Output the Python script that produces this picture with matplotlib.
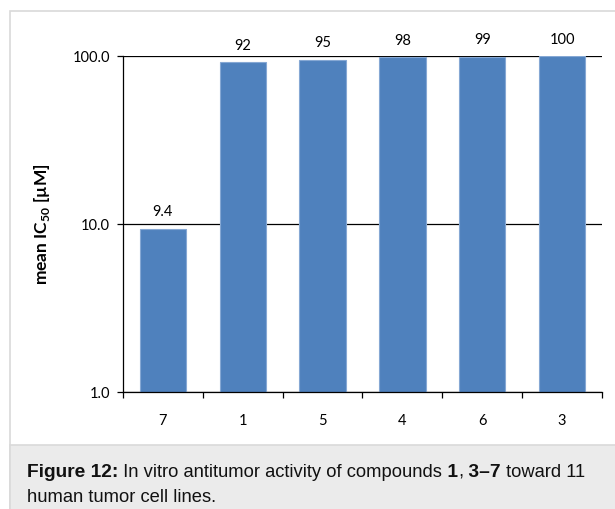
import matplotlib
matplotlib.use("Agg")
import matplotlib.pyplot as plt
from matplotlib.patches import Rectangle
from matplotlib.ticker import FixedLocator, NullLocator, NullFormatter

# ── Data ─────────────────────────────────────────────────────────────────────
compounds = ["7", "1", "5", "4", "6", "3"]
ic50 = [9.4, 92, 95, 98, 99, 100]
value_labels = ["9.4", "92", "95", "98", "99", "100"]
yticks = [1, 10, 100]
ytick_labels = ["1.0", "10.0", "100.0"]

# caption runs: spaces kept at the start of a run so they are measured
caption_lines = [
    [("Figure 12:", "bold"), (" In vitro antitumor activity of compounds", "normal"),
     (" 1", "bold"), (",", "normal"), (" 3–7", "bold"), (" toward 11", "normal")],
    [("human tumor cell lines.", "normal")],
]

# ── Style ────────────────────────────────────────────────────────────────────
plt.rcParams.update({
    "font.family": ["Lato", "DejaVu Sans"],
    "font.size": 10,
    "mathtext.fontset": "custom",
    "mathtext.rm": "Lato",
    "mathtext.bf": "Lato:bold",
})

W, H = 615, 510
fig = plt.figure(figsize=(W / 100, H / 100), dpi=100)

# panel frame and caption background (pixel coords -> figure fraction)
fig.patches.append(Rectangle((10 / W, -0.01), 1.0, 1.01 - 12 / H, transform=fig.transFigure,
                             facecolor="white", edgecolor="#d9d9d9", lw=1.2, zorder=-3))
fig.patches.append(Rectangle((10 / W, -0.01), 1.0, 0.01 + 1 - 446 / H, transform=fig.transFigure,
                             facecolor="#ebebeb", edgecolor="#d9d9d9", lw=1.2, zorder=-2))

ax = fig.add_axes([123 / W, 1 - 393 / H, (602 - 123) / W, (393 - 57) / H])
ax.set_zorder(1)
ax.patch.set_alpha(0)

x = list(range(len(compounds)))
ax.bar(x, ic50, width=0.58, color="#4f81bd", edgecolor="#86a8d4", lw=0.8, zorder=2)
ax.set_yscale("log")
ax.set_ylim(1, 100)
ax.set_xlim(-0.5, len(compounds) - 0.5)

for xi, v, lab in zip(x, ic50, value_labels):
    ax.annotate(lab, xy=(xi, v), xytext=(0, 12.5), textcoords="offset points",
                ha="center", va="center", fontsize=10.5, color="black",
                annotation_clip=False)

# y axis: 1 / 10 / 100 with black grid
ax.yaxis.set_major_locator(FixedLocator(yticks))
ax.yaxis.set_minor_locator(NullLocator())
ax.yaxis.set_minor_formatter(NullFormatter())
ax.set_yticklabels(ytick_labels)
ax.yaxis.grid(True, color="black", lw=0.9, zorder=1)
ax.set_axisbelow(True)
ax.tick_params(axis="y", which="major", length=4, width=0.9, pad=5.5,
               labelsize=10.5, direction="out")

# x axis: labels at bar centres, ticks between categories
ax.set_xticks(x)
ax.set_xticklabels(compounds)
ax.set_xticks([i - 0.5 for i in range(len(compounds) + 1)], minor=True)
ax.tick_params(axis="x", which="major", length=0, pad=15, labelsize=10.5)
ax.tick_params(axis="x", which="minor", length=4, width=0.9, direction="out")

for s in ["top", "right"]:
    ax.spines[s].set_visible(False)
for s in ["left", "bottom"]:
    ax.spines[s].set_linewidth(0.9)
    ax.spines[s].set_color("black")

fig.text(42 / W, 1 - 224 / H, r"mean IC$_{\mathbf{50}}$ [µM]", rotation=90,
         ha="center", va="center", fontsize=12.5, fontweight="bold")

# ── Caption with mixed bold / regular runs ───────────────────────────────────
renderer = fig.canvas.get_renderer()
baselines = [477, 502]
sizes = {"bold": 13.8, "normal": 13.2}
for line, base in zip(caption_lines, baselines):
    xpos = 27
    for txt, weight in line:
        t = fig.text(xpos / W, 1 - base / H, txt, fontsize=sizes[weight], fontweight=weight,
                     family="Liberation Sans", color="#111111",
                     ha="left", va="baseline")
        xpos += t.get_window_extent(renderer).width

fig.savefig("out.png", dpi=100)
